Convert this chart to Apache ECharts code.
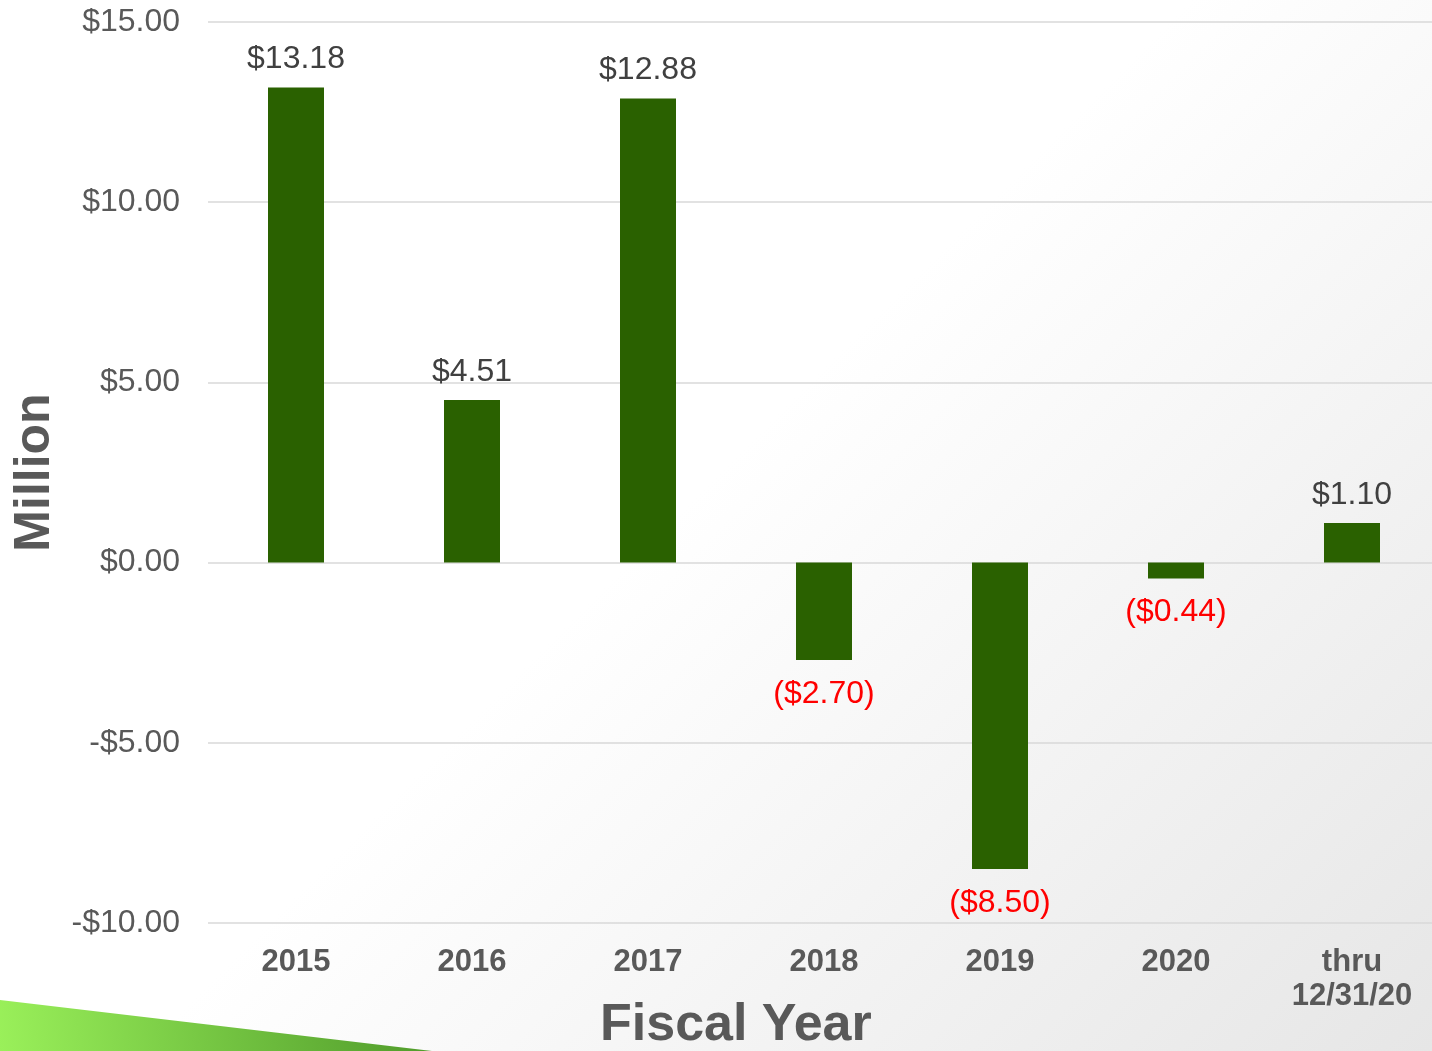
<!DOCTYPE html>
<html>
<head>
<meta charset="utf-8">
<script src="https://cdn.jsdelivr.net/npm/echarts@6/dist/echarts.min.js"></script>
<style>
  html, body { margin: 0; padding: 0; }
  #chart {
    width: 1432px;
    height: 1051px;
    background: linear-gradient(135deg, #ffffff 0%, #ffffff 48%, #e6e6e6 100%);
  }
</style>
</head>
<body>
<div id="chart"></div>
<script>
const years = ['2015', '2016', '2017', '2018', '2019', '2020', 'thru\n12/31/20'];
const netValues = [13.18, 4.51, 12.88, -2.70, -8.50, -0.44, 1.10];

const fontFamily = '"Liberation Sans", Arial, sans-serif';

const money = (v) => '$' + Math.abs(v).toFixed(2);

const chart = echarts.init(document.getElementById('chart'));
const option = {
  backgroundColor: 'transparent',
  animation: false,
  textStyle: {fontFamily},
  grid: {left: 208, right: -8, top: 22, bottom: 128, containLabel: false, outerBoundsMode: 'none'},
  xAxis: {
    type: 'category',
    data: years,
    position: 'bottom',
    axisLine: {show: false},
    axisTick: {show: false},
    axisLabel: {
      fontSize: 31,
      fontWeight: 'bold',
      color: '#595959',
      margin: 22,
      lineHeight: 34,
      interval: 0
    }
  },
  yAxis: {
    type: 'value',
    min: -10,
    max: 15,
    interval: 5,
    name: 'Million',
    nameLocation: 'middle',
    nameGap: 148,
    nameRotate: 90,
    nameTextStyle: {fontSize: 50, fontWeight: 'bold', color: '#595959', fontFamily},
    axisLine: {show: false},
    axisTick: {show: false},
    axisLabel: {
      fontSize: 32,
      color: '#595959',
      margin: 28,
      formatter: (v) => (v < 0 ? '-' : '') + money(v)
    },
    splitLine: {lineStyle: {color: '#d9d9d9', width: 1.5}}
  },
  series: [
    {
      type: 'bar',
      data: netValues.map(v => ({
        value: v,
        label: v < 0
          ? {position: 'bottom', color: '#ff0000', distance: 18}
          : {position: 'top', color: '#404040', distance: 12}
      })),
      barWidth: 56,
      itemStyle: {color: '#2a6100'},
      label: {
        show: true,
        fontSize: 32,
        formatter: (p) => p.value < 0 ? '(' + money(p.value) + ')' : money(p.value)
      }
    }
  ],
  graphic: [
    {
      type: 'polygon',
      silent: true,
      z: -1,
      shape: {points: [[0, 1000], [432, 1051], [0, 1051]]},
      style: {
        fill: new echarts.graphic.LinearGradient(0, 1, 1, 0, [
          {offset: 0, color: '#9af05a'},
          {offset: 1, color: '#4f9a2a'}
        ])
      }
    },
    {
      // x axis title, centred on the slide rather than the plot
      type: 'text',
      left: 600,
      top: 1000,
      style: {
        text: 'Fiscal Year',
        fontSize: 52,
        fontWeight: 'bold',
        fill: '#595959',
        fontFamily
      }
    }
  ]
};
chart.setOption(option);
</script>
</body>
</html>
